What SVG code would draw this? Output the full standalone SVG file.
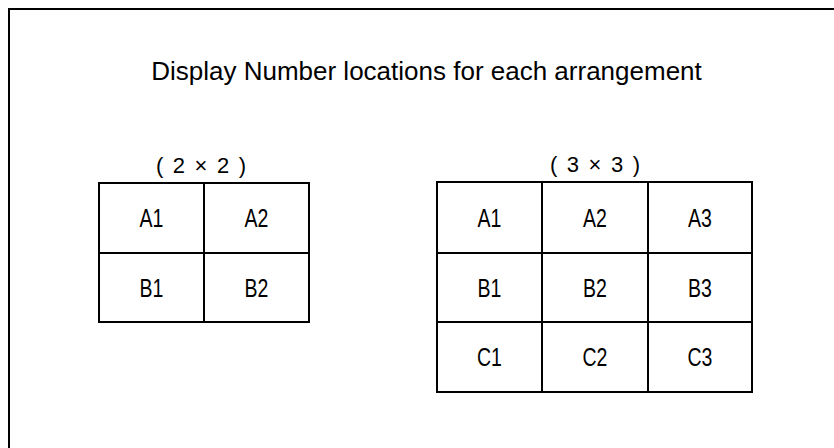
<svg xmlns="http://www.w3.org/2000/svg" width="834" height="448" viewBox="0 0 834 448">
<style>
.frame{fill:none;stroke:#000;stroke-width:2}
.cell{fill:#fff;stroke:#000;stroke-width:2}
.title{font-family:"Liberation Sans",Arial,sans-serif;font-size:26px;fill:#000;text-anchor:middle}
.sub{font-family:"Liberation Sans",Arial,sans-serif;font-size:22px;fill:#000}
.lbl{font-family:"Liberation Sans",Arial,sans-serif;font-size:26px;fill:#000;text-anchor:middle}
</style>
<rect width="834" height="448" fill="#fff"/>
<path class="frame" d="M9,460 V9 H850"/>
<text class="title" x="426.5" y="80">Display Number locations for each arrangement</text>
<g id="grid2x2">
<text class="sub" x="156" y="173" textLength="90" lengthAdjust="spacing">( 2 × 2 )</text>
<g id="g2-A1"><rect class="cell" x="99" y="183" width="105" height="70"/><text class="lbl" transform="translate(151.5,227) scale(0.75,1)">A1</text></g>
<g id="g2-A2"><rect class="cell" x="204" y="183" width="105" height="70"/><text class="lbl" transform="translate(256.5,227) scale(0.75,1)">A2</text></g>
<g id="g2-B1"><rect class="cell" x="99" y="253" width="105" height="69"/><text class="lbl" transform="translate(151.5,296.5) scale(0.75,1)">B1</text></g>
<g id="g2-B2"><rect class="cell" x="204" y="253" width="105" height="69"/><text class="lbl" transform="translate(256.5,296.5) scale(0.75,1)">B2</text></g>
</g>
<g id="grid3x3">
<text class="sub" x="550" y="172" textLength="90" lengthAdjust="spacing">( 3 × 3 )</text>
<g id="g3-A1"><rect class="cell" x="437" y="182" width="105" height="71"/><text class="lbl" transform="translate(489.5,227) scale(0.75,1)">A1</text></g>
<g id="g3-A2"><rect class="cell" x="542" y="182" width="106" height="71"/><text class="lbl" transform="translate(595,227) scale(0.75,1)">A2</text></g>
<g id="g3-A3"><rect class="cell" x="648" y="182" width="104" height="71"/><text class="lbl" transform="translate(700,227) scale(0.75,1)">A3</text></g>
<g id="g3-B1"><rect class="cell" x="437" y="253" width="105" height="69"/><text class="lbl" transform="translate(489.5,296.5) scale(0.75,1)">B1</text></g>
<g id="g3-B2"><rect class="cell" x="542" y="253" width="106" height="69"/><text class="lbl" transform="translate(595,296.5) scale(0.75,1)">B2</text></g>
<g id="g3-B3"><rect class="cell" x="648" y="253" width="104" height="69"/><text class="lbl" transform="translate(700,296.5) scale(0.75,1)">B3</text></g>
<g id="g3-C1"><rect class="cell" x="437" y="322" width="105" height="70"/><text class="lbl" transform="translate(489.5,366) scale(0.75,1)">C1</text></g>
<g id="g3-C2"><rect class="cell" x="542" y="322" width="106" height="70"/><text class="lbl" transform="translate(595,366) scale(0.75,1)">C2</text></g>
<g id="g3-C3"><rect class="cell" x="648" y="322" width="104" height="70"/><text class="lbl" transform="translate(700,366) scale(0.75,1)">C3</text></g>
</g>
<g id="connectors"/>
</svg>
